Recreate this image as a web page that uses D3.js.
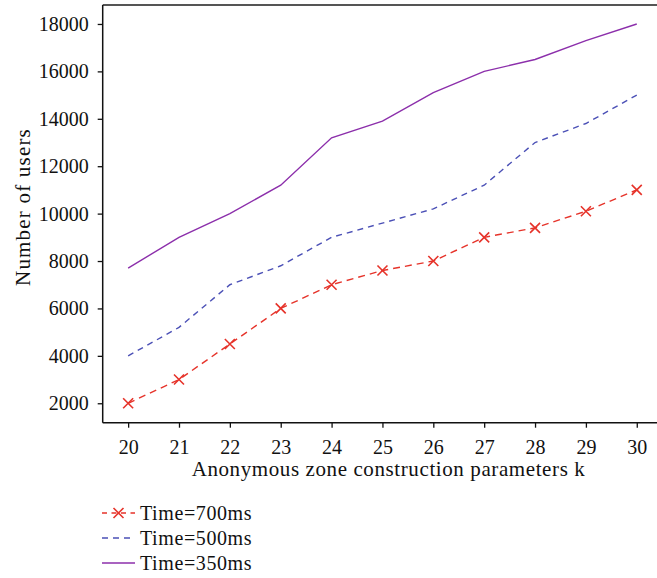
<!DOCTYPE html>
<html>
<head>
<meta charset="utf-8">
<script src="https://cdn.jsdelivr.net/npm/d3@7/dist/d3.min.js"></script>
<style>
  html, body { margin: 0; padding: 0; background: #fff; }
  svg { display: block; }
  text { font-family: "Liberation Serif", "DejaVu Serif", serif; fill: #111; }
</style>
</head>
<body>
<svg id="chart" width="657" height="578"></svg>
<script>
const kValues = [20, 21, 22, 23, 24, 25, 26, 27, 28, 29, 30];
const seriesNames = ["Time=700ms", "Time=500ms", "Time=350ms"];
const time700 = [2000, 3000, 4500, 6000, 7000, 7600, 8000, 9000, 9400, 10100, 11000];
const time500 = [4000, 5200, 7000, 7800, 9000, 9600, 10200, 11200, 13000, 13800, 15000];
const time350 = [7700, 9000, 10000, 11200, 13200, 13900, 15100, 16000, 16500, 17300, 18000];
const yTicks = [2000, 4000, 6000, 8000, 10000, 12000, 14000, 16000, 18000];

(function () {
const series = [
  { name: seriesNames[0], values: time700, color: "#e6332a", dash: "7,5", marker: true },
  { name: seriesNames[1], values: time500, color: "#4b50b6", dash: "6,5", marker: false },
  { name: seriesNames[2], values: time350, color: "#8c2fab", dash: null, marker: false }
];

const svg = d3.select("#chart");
const pLeft = 102.7, pRight = 662.2, pTop = 5, pBottom = 422.7;

const x = d3.scaleLinear().domain([19.5, 30.5]).range([pLeft, pRight]);
const y = d3.scaleLinear().domain([1180, 18800]).range([pBottom, pTop]);

// top border
svg.append("line")
  .attr("x1", pLeft).attr("x2", 657).attr("y1", pTop).attr("y2", pTop)
  .attr("stroke", "#555").attr("stroke-width", 2);

// x axis
const xAxis = svg.append("g").attr("transform", `translate(0,${pBottom})`)
  .call(d3.axisBottom(x).tickValues(kValues).tickFormat(d3.format("d")).tickSizeOuter(0).tickSize(5).tickPadding(12));
xAxis.select(".domain").attr("d", `M${pLeft},0H657`).attr("stroke", "#111").attr("stroke-width", 1.5);
xAxis.selectAll(".tick line").attr("stroke", "#111").attr("stroke-width", 1.3);
xAxis.selectAll(".tick text").style("font-size", "20px").style("font-family", "Liberation Serif, serif").attr("fill", "#111");

// y axis
const yAxis = svg.append("g").attr("transform", `translate(${pLeft},0)`)
  .call(d3.axisLeft(y).tickValues(yTicks).tickFormat(d3.format("d")).tickSizeOuter(0).tickSize(5).tickPadding(9));
yAxis.select(".domain").attr("d", `M0,${pTop}V${pBottom}`).attr("stroke", "#111").attr("stroke-width", 1.5);
yAxis.selectAll(".tick line").attr("stroke", "#111").attr("stroke-width", 1.3);
yAxis.selectAll(".tick text").style("font-size", "20px").style("font-family", "Liberation Serif, serif").attr("fill", "#111");

// axis labels
svg.append("text").attr("x", 388.5).attr("y", 476).attr("text-anchor", "middle")
  .style("font-size", "21px").style("letter-spacing", "0.6px")
  .text("Anonymous zone construction parameters k");
svg.append("text").attr("transform", "translate(30,207) rotate(-90)").attr("text-anchor", "middle")
  .style("font-size", "21px").style("letter-spacing", "1.2px")
  .text("Number of users");

const line = d3.line().x((d, i) => x(kValues[i])).y(d => y(d));

function cross(g, cx, cy, color) {
  const s = 5;
  g.append("path")
    .attr("d", `M${cx - s},${cy - s}L${cx + s},${cy + s}M${cx - s},${cy + s}L${cx + s},${cy - s}`)
    .attr("stroke", color).attr("stroke-width", 1.6).attr("fill", "none");
}

const plot = svg.append("g");
[...series].reverse().forEach(s => {
  plot.append("path").datum(s.values)
    .attr("d", line)
    .attr("fill", "none")
    .attr("stroke", s.color)
    .attr("stroke-width", 1.4)
    .attr("stroke-dasharray", s.dash);
  if (s.marker) {
    s.values.forEach((v, i) => cross(plot, x(kValues[i]), y(v), s.color));
  }
});

// legend
const legY = [513, 538, 563];
series.forEach((s, i) => {
  const g = svg.append("g");
  g.append("line").attr("x1", 102).attr("x2", 135).attr("y1", legY[i]).attr("y2", legY[i])
    .attr("stroke", s.color).attr("stroke-width", 1.4)
    .attr("stroke-dasharray", s.marker ? "5,4.5" : (s.dash ? "6,5" : null));
  if (s.marker) cross(g, 118.5, legY[i], s.color);
  g.append("text").attr("x", 140).attr("y", legY[i] + 7)
    .style("font-size", "20px").style("letter-spacing", "0.6px").text(s.name);
});
})();
</script>
</body>
</html>
